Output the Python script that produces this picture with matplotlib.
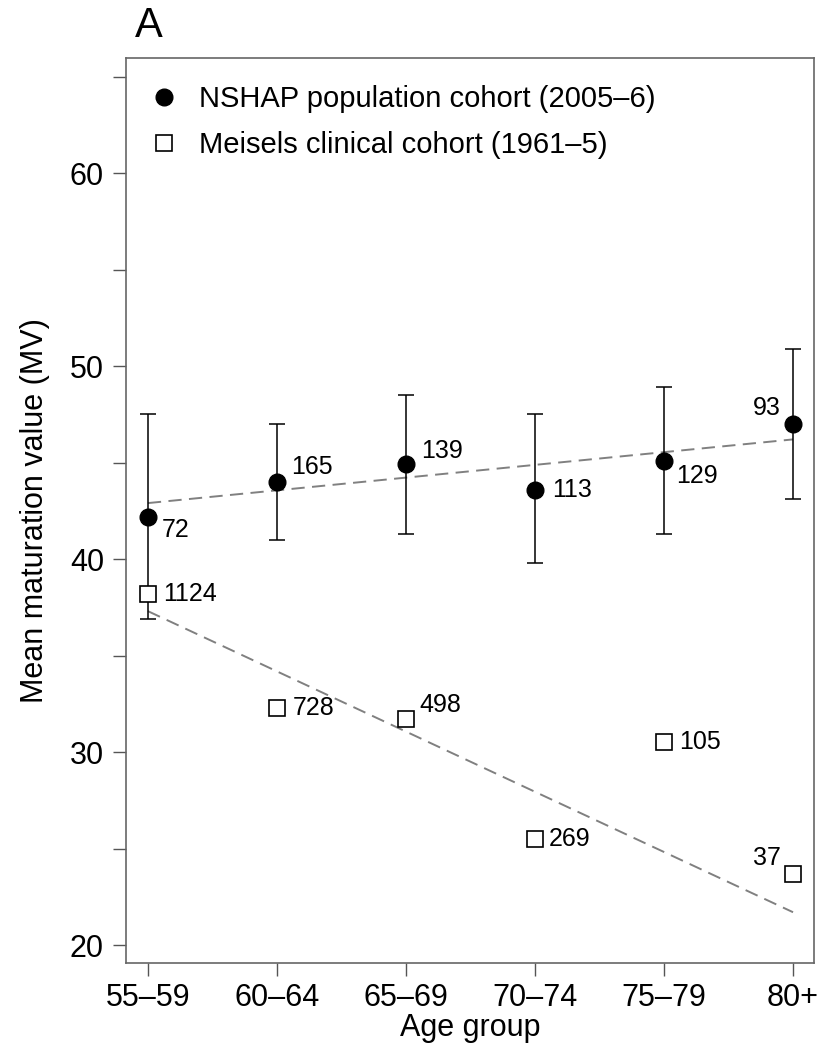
import matplotlib
matplotlib.use("Agg")
import matplotlib.pyplot as plt

plt.rcParams['font.family'] = ['Liberation Sans', 'DejaVu Sans']

# data
age_groups = ["55\u201359", "60\u201364", "65\u201369", "70\u201374", "75\u201379", "80+"]

nshap_mean = [42.2, 44.0, 44.9, 43.6, 45.1, 47.0]
nshap_low = [36.9, 41.0, 41.3, 39.8, 41.3, 43.1]
nshap_high = [47.5, 47.0, 48.5, 47.5, 48.9, 50.9]
nshap_n = [72, 165, 139, 113, 129, 93]

meisels_mean = [38.2, 32.3, 31.7, 25.5, 30.5, 23.7]
meisels_n = [1124, 728, 498, 269, 105, 37]

# fitted trend lines, value at first and last age group
nshap_trend = [42.9, 46.2]
meisels_trend = [37.3, 21.7]

# where each count label sits relative to its marker (points, alignment)
nshap_offsets = [(10, -10, 'left'), (10, 11, 'left'), (11, 10, 'left'),
                 (12, 0, 'left'), (9, -11, 'left'), (-9, 11.5, 'right')]
meisels_offsets = [(11, 0, 'left'), (11.5, 0, 'left'), (10, 10, 'left'),
                   (10, 0, 'left'), (11, 0, 'left'), (-9, 11, 'right')]

x = list(range(len(age_groups)))

fig = plt.figure(figsize=(8.29, 10.44), dpi=100)
ax = fig.add_axes([0.152, 0.0776, 0.830, 0.8668])

# trend lines
ends = [x[0], x[-1]]
ax.plot(ends, nshap_trend, color='#808080', lw=1.4, dashes=(6.8, 3.8), zorder=1)
ax.plot(ends, meisels_trend, color='#808080', lw=1.4, dashes=(6.8, 3.8), zorder=1)

# NSHAP with error bars
yerr = [[m - lo for m, lo in zip(nshap_mean, nshap_low)],
        [hi - m for m, hi in zip(nshap_mean, nshap_high)]]
ax.errorbar(x, nshap_mean, yerr=yerr, fmt='none', ecolor='black',
            elinewidth=1.1, capsize=6.1, capthick=1.1, zorder=2)
ax.plot(x, nshap_mean, 'o', color='black', ms=12, ls='none', zorder=3,
        label="NSHAP population cohort (2005\u20136)")

# Meisels squares
ax.plot(x, meisels_mean, 's', mfc='white', mec='black', mew=1.2, ms=11.5,
        ls='none', zorder=3, label="Meisels clinical cohort (1961\u20135)")

for xi, yi, n, (dx, dy, ha) in zip(x, nshap_mean, nshap_n, nshap_offsets):
    ax.annotate(str(n), (xi, yi), xytext=(dx, dy), textcoords='offset points',
                ha=ha, va='center', fontsize=18)
for xi, yi, n, (dx, dy, ha) in zip(x, meisels_mean, meisels_n, meisels_offsets):
    ax.annotate(str(n), (xi, yi), xytext=(dx, dy), textcoords='offset points',
                ha=ha, va='center', fontsize=18)

ax.set_xlim(-0.17, 5.163)
ax.set_ylim(19.07, 65.96)
ax.set_xticks(x)
ax.set_xticklabels(age_groups)
ax.set_yticks(range(20, 70, 5))
ax.set_yticklabels([str(v) if v % 10 == 0 else '' for v in range(20, 70, 5)])

ax.tick_params(direction='out', length=9.4, width=1.0, color='#555555',
               labelsize=22)
ax.tick_params(axis='y', pad=6.5)
ax.tick_params(axis='x', pad=5)
for s in ax.spines.values():
    s.set_color('#666666')
    s.set_linewidth(1.2)

ax.set_xlabel("Age group", fontsize=22, labelpad=0)
ax.set_ylabel("Mean maturation value (MV)", fontsize=22, labelpad=14)

ax.legend(loc='upper left', frameon=False, fontsize=21, handletextpad=0.6,
          labelspacing=0.62, borderaxespad=0.3, handlelength=1.2,
          bbox_to_anchor=(0.0, 0.993))

fig.text(0.163, 0.975, "A", fontsize=30, va='center', ha='left')

fig.savefig("out.png", dpi=100)
